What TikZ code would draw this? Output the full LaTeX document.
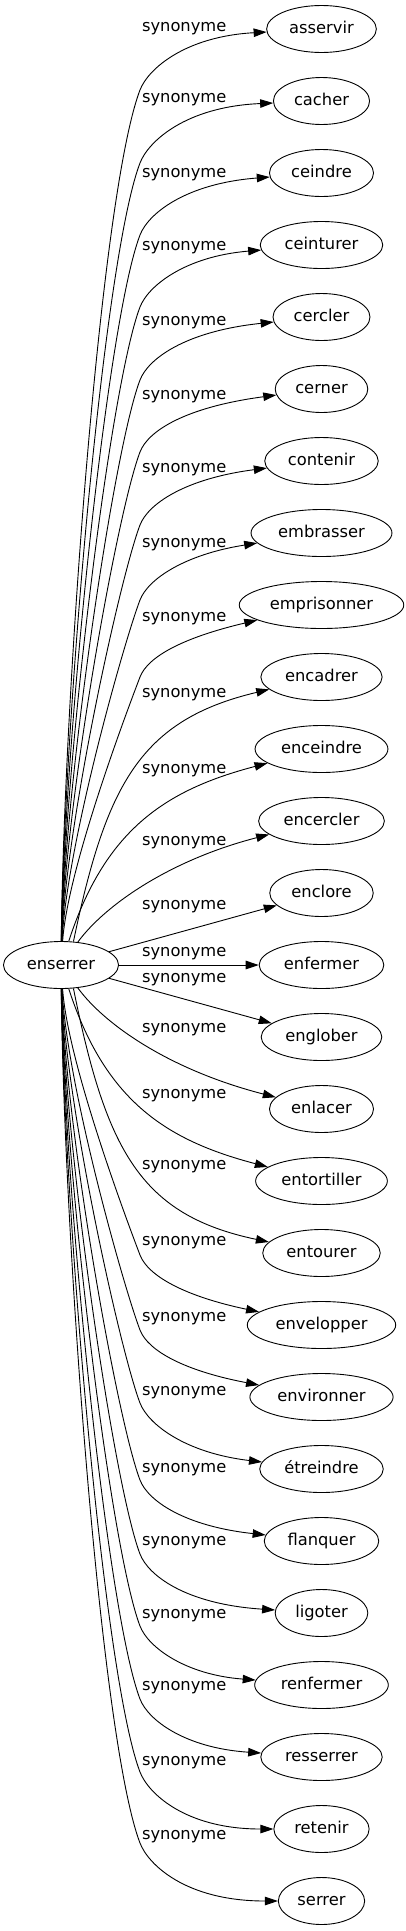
\documentclass[tikz,border=0pt]{standalone}
\usepackage{fontspec}
\setmainfont{DejaVu Sans}
\usetikzlibrary{arrows.meta,shapes.geometric}
\tikzset{
  word/.style={draw, ellipse, line width=0.9pt, font=\fontsize{16.3}{18}\selectfont,
    inner xsep=6.5pt, inner ysep=0pt, minimum height=47pt,
    text height=12.2pt, text depth=3.9pt},
  rel/.style={font=\fontsize{16.3}{18}\selectfont, inner sep=0pt, anchor=mid},
  link/.style={line width=0.9pt, -{Triangle[length=13pt,width=8.5pt]}},
}
\begin{document}
\begin{tikzpicture}[x=1pt,y=-1pt]
\useasboundingbox (0,0) rectangle (406,1931);
\node[word] (s) at (61,965) {enserrer};
\foreach \i/\w in {0/asservir,1/cacher,2/ceindre,3/ceinturer,4/cercler,5/cerner,
  6/contenir,7/embrasser,8/emprisonner,9/encadrer,10/enceindre,11/encercler,
  12/enclore,13/enfermer,14/englober,15/enlacer,16/entortiller,17/entourer,
  18/envelopper,19/environner,20/étreindre,21/flanquer,22/ligoter,23/renfermer,
  24/resserrer,25/retenir,26/serrer}
  {\node[word] (n\i) at (321.5,{29+72*\i}) {\w};}
\foreach \i/\y in {0/29,1/100,2/175,3/248,4/323,5/397,6/470,7/545,8/619,9/695,
  10/771,11/843,12/907,13/954,14/980,15/1030,16/1096,17/1167,18/1243,19/1319,
  20/1393,21/1470,22/1543,23/1616,24/1688,25/1763,26/1837}
  {\node[rel] (l\i) at (184.2,\y) {synonyme};}
% upper edges
\foreach \i/\j/\sh in {0/90/7.5,1/163/5.7,2/235/10.6,3/307/11.4,4/380/14.3,
  5/452/18.2,6/525/17.6,7/600/21.4,8/677/32.1}
{
  \pgfmathsetmacro\D{942-\j}
  \pgfmathsetmacro\yT{29+72*\i}
  \draw[link] (s) .. controls ({62+1500/\D},{942-0.28*\D}) and ({140-0.047*\D},{\j+0.123*\D}) ..
    (140,\j) .. controls (148,{\j-21}) and (185,{\yT+\sh}) .. (n\i);
}
% lower edges
\foreach \i/\j/\sh in {18/1255/-28.7,19/1330/-26.1,
  20/1403/-16.1,21/1480/-14.8,22/1554/-8.9,23/1626/-10.3,24/1699/-9,25/1772/0,26/1843/0}
{
  \pgfmathsetmacro\D{\j-988}
  \pgfmathsetmacro\yT{29+72*\i}
  \draw[link] (s) .. controls ({62+1500/\D},{988+0.28*\D}) and ({140-0.047*\D},{\j-0.123*\D}) ..
    (140,\j) .. controls (148,{\j+21}) and (185,{\yT+\sh}) .. (n\i);
}
% edges near the centre
\draw[link] (s.62) .. controls (106,785) and (140,720) .. (n9);
\draw[link] (s) .. controls (105,830) and (165,790) .. (n10);
\draw[link] (s) .. controls (105,905) and (170,860) .. (n11);
\draw[link] (s) -- (n12);
\draw[link] (s) -- (n13);
\draw[link] (s) -- (n14);
\draw[link] (s) .. controls (105,1025) and (170,1070) .. (n15);
\draw[link] (s) .. controls (105,1100) and (165,1140) .. (n16);
\draw[link] (s.-62) .. controls (106,1150) and (140,1215) .. (n17);
\end{tikzpicture}
\end{document}
